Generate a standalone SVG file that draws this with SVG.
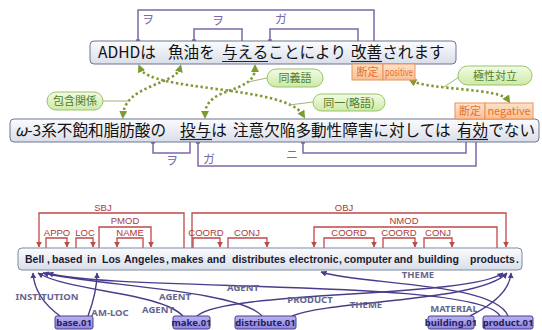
<svg xmlns="http://www.w3.org/2000/svg" width="542" height="330" viewBox="0 0 542 330">
<defs>
<linearGradient id="gSent" x1="0" y1="0" x2="0" y2="1"><stop offset="0" stop-color="#fbfcfe"/><stop offset="1" stop-color="#d9dee9"/></linearGradient>
<linearGradient id="gGreen" x1="0" y1="0" x2="0" y2="1"><stop offset="0" stop-color="#f3fbe4"/><stop offset="1" stop-color="#cdeaa6"/></linearGradient>
<linearGradient id="gOrange" x1="0" y1="0" x2="0" y2="1"><stop offset="0" stop-color="#fde3cc"/><stop offset="1" stop-color="#f9bf93"/></linearGradient>
<linearGradient id="gNode" x1="0" y1="0" x2="0" y2="1"><stop offset="0" stop-color="#b7b2f2"/><stop offset="1" stop-color="#8f86e0"/></linearGradient>
<marker id="ag" viewBox="0 0 10 10" refX="5" refY="5" markerWidth="8" markerHeight="8" markerUnits="userSpaceOnUse" orient="auto-start-reverse"><path d="M0,0 L10,5 L0,10 z" fill="#7f9a34"/></marker>
<marker id="ar" viewBox="0 0 10 10" refX="9" refY="5" markerWidth="6" markerHeight="6" markerUnits="userSpaceOnUse" orient="auto"><path d="M0,0 L10,5 L0,10 z" fill="#c04848"/></marker>
<marker id="ap" viewBox="0 0 10 10" refX="9" refY="5" markerWidth="6" markerHeight="6" markerUnits="userSpaceOnUse" orient="auto"><path d="M0,0 L10,5 L0,10 z" fill="#4a3c8c"/></marker>
<style>
.sent{fill:url(#gSent);stroke:#6e7590;stroke-width:1}
.jp{font-family:"Noto Sans CJK JP","Noto Sans",sans-serif;font-size:15.6px;fill:#111}
.ul{stroke:#222;stroke-width:1.2}
.pbr{fill:none;stroke:#7b68a6;stroke-width:1.5}
.pdot{fill:#7b68a6}
.plab{font-family:"Noto Sans CJK JP",sans-serif;font-size:12px;fill:#7b68a6}
.gdot{fill:none;stroke:#7f9a34;stroke-width:2.6;stroke-dasharray:2.4 2.6}
.gline{stroke:#9fb57a;stroke-width:1}
.pill{fill:url(#gGreen);stroke:#98c36a;stroke-width:1}
.glab{font-family:"Noto Sans CJK JP",sans-serif;font-size:11px;fill:#4f7d2c;text-anchor:middle}
.tag{fill:url(#gOrange);stroke:#e8935a;stroke-width:1}
.olab{font-family:"Noto Sans CJK JP","Noto Sans",sans-serif;font-size:11px;fill:#e8702a;text-anchor:middle}
.en{fill:url(#gSent);stroke:#7d8ba3;stroke-width:1}
.ent{font-family:"Liberation Sans",Arial,sans-serif;font-size:10.5px;font-weight:bold;fill:#1c1c30}
.rbr{fill:none;stroke:#c04848;stroke-width:1.3}
.rlab{font-family:"Liberation Sans",sans-serif;font-size:9.5px;fill:#a83a3a;text-anchor:middle}
.arc{fill:none;stroke:#4a3c8c;stroke-width:1.4}
.alab{font-family:"Noto Sans",sans-serif;font-size:9.5px;font-weight:bold;fill:#66668e;text-anchor:middle}
.node{fill:url(#gNode);stroke:#4a3c8c;stroke-width:1}
.nlab{font-family:"Noto Sans",sans-serif;font-size:9.5px;font-weight:bold;fill:#26205a;text-anchor:middle}
</style>
</defs>
<rect width="542" height="330" fill="#ffffff"/>

<g id="connectors">
<path class="pbr" d="M138,41 V10 H374 V41"/>
<path class="pbr" d="M194,41 V29 H242 V41"/>
<path class="pbr" d="M270,41 V29 H358 V41"/>
<circle class="pdot" cx="138" cy="41" r="2.2"/>
<circle class="pdot" cx="194" cy="41" r="2.2"/>
<circle class="pdot" cx="270" cy="41" r="2.2"/>
<text class="plab" x="148" y="24" text-anchor="middle">ヲ</text>
<text class="plab" x="218" y="25" text-anchor="middle">ヲ</text>
<text class="plab" x="281" y="24" text-anchor="middle">ガ</text>
<path class="pbr" d="M153,142 V153 H190 V142"/>
<path class="pbr" d="M198,142 V166 H476 V142"/>
<path class="pbr" d="M303,142 V153 H466 V142"/>
<circle class="pdot" cx="153" cy="142" r="2.2"/>
<circle class="pdot" cx="198" cy="142" r="2.2"/>
<circle class="pdot" cx="303" cy="142" r="2.2"/>
<text class="plab" x="172" y="165" text-anchor="middle">ヲ</text>
<text class="plab" x="209" y="164" text-anchor="middle">ガ</text>
<text class="plab" x="292" y="159" text-anchor="middle">ニ</text>
<path class="gdot" d="M140,68 C150,92 285,85 303,115" marker-start="url(#ag)" marker-end="url(#ag)"/>
<path class="gdot" d="M180,68 C175,85 125,85 123,115" marker-start="url(#ag)" marker-end="url(#ag)"/>
<path class="gdot" d="M255,68 C255,95 205,85 205,115" marker-start="url(#ag)" marker-end="url(#ag)"/>
<path class="gdot" d="M412,81 C430,90 500,88 508,100" marker-start="url(#ag)" marker-end="url(#ag)"/>
<line class="gline" x1="267" y1="78" x2="248" y2="82"/>
<line class="gline" x1="313" y1="102" x2="289" y2="105"/>
<line class="gline" x1="103" y1="101" x2="129" y2="101"/>
<line class="gline" x1="459" y1="77" x2="444" y2="87"/>
<path class="rbr" d="M184,248 V213 H39 V247" marker-end="url(#ar)"/>
<path class="rbr" d="M46,248 V238 H67 V247" marker-end="url(#ar)"/>
<path class="rbr" d="M76,248 V238 H93 V247" marker-end="url(#ar)"/>
<path class="rbr" d="M99,248 V227 H151 V247" marker-end="url(#ar)"/>
<path class="rbr" d="M143,248 V238 H117 V247" marker-end="url(#ar)"/>
<path class="rbr" d="M192,248 V213 H506 V247" marker-end="url(#ar)"/>
<path class="rbr" d="M193,248 V238 H220 V247" marker-end="url(#ar)"/>
<path class="rbr" d="M228,248 V238 H267 V247" marker-end="url(#ar)"/>
<path class="rbr" d="M497,248 V227 H314 V247" marker-end="url(#ar)"/>
<path class="rbr" d="M324,248 V238 H374 V247" marker-end="url(#ar)"/>
<path class="rbr" d="M383,248 V238 H415 V247" marker-end="url(#ar)"/>
<path class="rbr" d="M424,248 V238 H452 V247" marker-end="url(#ar)"/>
<text class="rlab" x="103" y="211">SBJ</text>
<text class="rlab" x="57" y="236">APPO</text>
<text class="rlab" x="85" y="236">LOC</text>
<text class="rlab" x="125" y="224">PMOD</text>
<text class="rlab" x="130" y="236">NAME</text>
<text class="rlab" x="344" y="211">OBJ</text>
<text class="rlab" x="206" y="236">COORD</text>
<text class="rlab" x="247" y="236">CONJ</text>
<text class="rlab" x="404" y="224">NMOD</text>
<text class="rlab" x="349" y="236">COORD</text>
<text class="rlab" x="399" y="236">COORD</text>
<text class="rlab" x="438" y="236">CONJ</text>
<path class="arc" d="M60,316 C45,305 34,290 33,273" marker-end="url(#ap)"/>
<path class="arc" d="M88,316 C94,300 97,286 97,273" marker-end="url(#ap)"/>
<path class="arc" d="M183,316 C160,292 70,292 38,273" marker-end="url(#ap)"/>
<path class="arc" d="M262,316 C240,290 90,285 43,273" marker-end="url(#ap)"/>
<path class="arc" d="M500,316 C480,278 110,292 48,273" marker-end="url(#ap)"/>
<path class="arc" d="M197,316 C225,290 470,298 503,273" marker-end="url(#ap)"/>
<path class="arc" d="M292,316 C330,300 480,302 507,273" marker-end="url(#ap)"/>
<path class="arc" d="M470,316 C492,305 510,290 511,273" marker-end="url(#ap)"/>
<path class="arc" d="M508,316 C495,282 360,285 321,272" marker-end="url(#ap)"/>
<text class="alab" x="47" y="300">INSTITUTION</text>
<text class="alab" x="110" y="316">AM-LOC</text>
<text class="alab" x="175" y="300">AGENT</text>
<text class="alab" x="158" y="313">AGENT</text>
<text class="alab" x="243" y="291">AGENT</text>
<text class="alab" x="310" y="303">PRODUCT</text>
<text class="alab" x="366" y="308">THEME</text>
<text class="alab" x="418" y="278">THEME</text>
<text class="alab" x="454" y="312">MATERIAL</text>
</g>

<g id="sentence1">
<rect class="sent" x="90" y="41" width="366" height="23" rx="4"/>
<text class="jp" y="58"><tspan x="98">ADHDは</tspan><tspan x="168">魚油を</tspan><tspan x="222">与えることにより</tspan><tspan x="351">改善されます</tspan></text>
<line class="ul" x1="222" y1="61.5" x2="268" y2="61.5"/>
<line class="ul" x1="351" y1="61.5" x2="382" y2="61.5"/>
</g>

<g id="sentence2">
<rect class="sent" x="10" y="119" width="529" height="23" rx="4"/>
<text class="jp" y="136"><tspan x="15" font-style="italic">ω</tspan><tspan>-3系不飽和脂肪酸の</tspan><tspan x="180">投与は</tspan><tspan x="233">注意欠陥多動性障害に対しては</tspan><tspan x="457">有効でない</tspan></text>
<line class="ul" x1="180" y1="139.5" x2="212" y2="139.5"/>
<line class="ul" x1="457" y1="139.5" x2="488" y2="139.5"/>
</g>

<g id="tag-positive">
<rect class="tag" x="352" y="64" width="31" height="16"/>
<rect class="tag" x="383" y="64" width="32" height="16"/>
<text class="olab" x="367.5" y="76">断定</text>
<text class="olab" x="399" y="76" font-size="10" textLength="28" lengthAdjust="spacingAndGlyphs">positive</text>
</g>
<g id="tag-negative">
<rect class="tag" x="455" y="103" width="30" height="16"/>
<rect class="tag" x="485" y="103" width="48" height="16"/>
<text class="olab" x="470" y="115">断定</text>
<text class="olab" x="509" y="115" textLength="43" lengthAdjust="spacingAndGlyphs">negative</text>
</g>

<g id="rel-synonym"><rect class="pill" x="267" y="69" width="56" height="18" rx="9"/><text class="glab" x="295" y="82">同義語</text></g>
<g id="rel-same"><rect class="pill" x="313" y="94" width="72" height="17" rx="8.5"/><text class="glab" x="349" y="106.5">同一(略語)</text></g>
<g id="rel-inclusion"><rect class="pill" x="47" y="92" width="56" height="18" rx="9"/><text class="glab" x="75" y="105">包含関係</text></g>
<g id="rel-polarity"><rect class="pill" x="458" y="66" width="74" height="19" rx="9.5"/><text class="glab" x="495" y="79.5">極性対立</text></g>

<g id="sentence3">
<rect class="en" x="18" y="248" width="504" height="22" rx="4"/>
<text class="ent" y="263"><tspan x="25">Bell</tspan><tspan x="47">,</tspan><tspan x="52">based</tspan><tspan x="87">in</tspan><tspan x="102">Los</tspan><tspan x="124">Angeles</tspan><tspan x="166">,</tspan><tspan x="171">makes</tspan><tspan x="207">and</tspan><tspan x="232">distributes</tspan><tspan x="289">electronic</tspan><tspan x="339">,</tspan><tspan x="344">computer</tspan><tspan x="394">and</tspan><tspan x="418">building</tspan><tspan x="470">products</tspan><tspan x="516">.</tspan></text>
</g>

<g id="node-base"><rect class="node" x="55" y="316" width="38" height="13" rx="2"/><text class="nlab" x="74" y="326">base.01</text></g>
<g id="node-make"><rect class="node" x="173" y="316" width="37" height="13" rx="2"/><text class="nlab" x="191.5" y="326">make.01</text></g>
<g id="node-distribute"><rect class="node" x="235" y="316" width="61" height="13" rx="2"/><text class="nlab" x="265.5" y="326">distribute.01</text></g>
<g id="node-building"><rect class="node" x="428" y="316" width="46" height="13" rx="2"/><text class="nlab" x="451" y="326">building.01</text></g>
<g id="node-product"><rect class="node" x="483" y="316" width="50" height="13" rx="2"/><text class="nlab" x="508" y="326">product.01</text></g>
</svg>
